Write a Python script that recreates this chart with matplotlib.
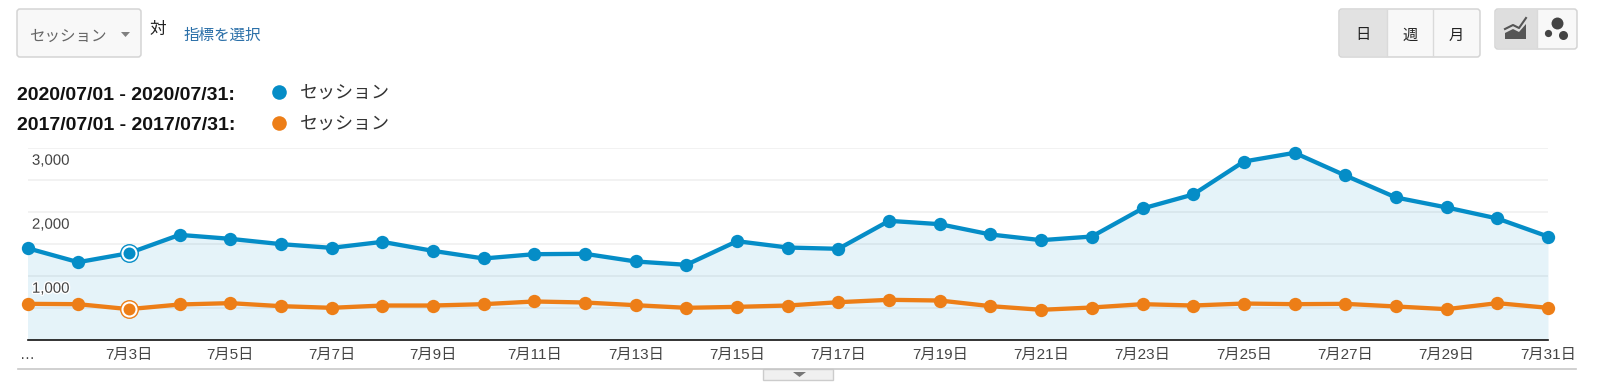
import matplotlib
matplotlib.use("Agg")
import matplotlib.pyplot as plt
import matplotlib.patheffects as pe
from matplotlib.patches import FancyBboxPatch, Polygon, Rectangle

plt.rcParams['font.family'] = ['Liberation Sans', 'Noto Sans CJK JP']

# Values
days = list(range(1, 32))
sessions_2020 = [1427, 1208, 1349, 1635, 1573, 1490, 1432, 1526, 1385, 1266,
                 1333, 1339, 1219, 1167, 1536, 1437, 1417, 1854, 1802, 1641,
                 1552, 1609, 2047, 2266, 2781, 2917, 2563, 2219, 2063, 1891,
                 1609]
sessions_2017 = [557, 552, 474, 547, 568, 521, 495, 531, 531, 552,
                 594, 578, 536, 495, 510, 531, 583, 620, 609, 521,
                 464, 500, 552, 531, 562, 552, 557, 516, 474, 568,
                 495]
y_labels = [1000, 2000, 3000]
y_grid = [500, 1000, 1500, 2000, 2500, 3000]
x_label_days = list(range(3, 32, 2))
highlight_day = 3
range_labels = ["2020/07/01 - 2020/07/31:", "2017/07/01 - 2017/07/31:"]
metric_name = "セッション"
period_buttons = ["日", "週", "月"]

BLUE = "#058dc7"
ORANGE = "#ed7e17"
WIDTH, HEIGHT = 1600, 383


def draw_button(ui, x0, y0, x1, y1, face="#f8f8f8"):
    """Rounded grey-edged box in pixel coordinates."""
    box = FancyBboxPatch((x0 + 3, y0 + 3), x1 - x0 - 6, y1 - y0 - 6,
                         boxstyle="round,pad=3", facecolor=face,
                         edgecolor="#d4d4d4", linewidth=1.1)
    ui.add_patch(box)


def draw_controls(ui):
    """Draws the dropdown, buttons and legend around the chart."""
    # Metric dropdown
    draw_button(ui, 17, 9, 141, 57)
    ui.text(29, 36.5, metric_name, fontsize=11.2, color="#666666", va="center")
    ui.add_patch(Polygon([(121, 32), (130, 32), (125.5, 37)], color="#808080",
                         lw=0))
    ui.text(149, 29.5, "対", fontsize=12, color="#222222", va="center")
    ui.text(183, 35.5, "指標を選択", fontsize=11.2, color="#2a6fa8", va="center")

    # Day / week / month
    draw_button(ui, 1339, 9, 1480, 57)
    ui.add_patch(Rectangle((1340, 10), 47, 46, color="#e2e2e2", lw=0))
    ui.plot([1387, 1387], [10, 56], color="#dadada", lw=1)
    ui.plot([1433, 1433], [10, 56], color="#dadada", lw=1)
    for x, label in zip([1363, 1410, 1456], period_buttons):
        ui.text(x, 35.5, label, fontsize=11, color="#222222",
                ha="center", va="center")

    # Chart type toggle
    draw_button(ui, 1495, 9, 1577, 49)
    ui.add_patch(Rectangle((1496, 10), 41, 38, color="#dedede", lw=0))
    ui.plot([1537, 1537], [10, 48], color="#dadada", lw=1)
    ui.add_patch(Polygon([(1505, 39), (1505, 33), (1513, 29), (1519, 32),
                          (1526, 24), (1526, 39)], color="#555555", lw=0))
    ui.plot([1505, 1513, 1519, 1526], [29, 25, 28, 18],
            color="#555555", lw=1.5)
    ui.plot([1557], [23], "o", color="#444444", ms=8.6, mew=0)
    ui.plot([1548], [33], "o", color="#444444", ms=5.2, mew=0)
    ui.plot([1563], [35], "o", color="#444444", ms=6.5, mew=0)

    # Legend
    for y, label, color in zip([92, 123], range_labels, [BLUE, ORANGE]):
        ui.text(17, y + 3, label, fontsize=14, fontweight="bold",
                color="#111111", va="center")
        ui.plot([279], [y], "o", color=color, ms=10.5, mew=0)
        ui.text(300, y + 2.3, metric_name, fontsize=13,
                color="#333333", va="center")

    # Bottom rule and collapse tab
    ui.plot([18, 1576], [369, 369], color="#c8c8c8", lw=1.2)
    ui.add_patch(Rectangle((763, 369), 70, 11, facecolor="#f0f0f0",
                           edgecolor="#cccccc", lw=1))
    ui.add_patch(Polygon([(793, 372), (806, 372), (799.5, 377)],
                         color="#777777", lw=0))


def draw_chart(ax):
    """Draws both session series with their grid and axis labels."""
    for value in y_grid:
        ax.axhline(value, color="#f2f2f2", lw=1.4, zorder=1)
    ax.fill_between(days, sessions_2020, 0, color=BLUE, alpha=0.1, lw=0,
                    zorder=2)
    ax.axhline(0, color="#111111", lw=1.2, zorder=3, clip_on=False)

    i = days.index(highlight_day)
    for values, color in [(sessions_2020, BLUE), (sessions_2017, ORANGE)]:
        ax.plot(days, values, color=color, lw=3.1, marker="o", ms=9.6, mew=0,
                clip_on=False, zorder=4)
        ax.plot(days[i], values[i], "o", ms=12.6, mfc="white", mec=color,
                mew=1, clip_on=False, zorder=5)
        ax.plot(days[i], values[i], "o", ms=8.6, color=color, mew=0,
                clip_on=False, zorder=6)

    for value in y_labels:
        ax.annotate(f"{value:,}", (days[0], value), xytext=(3.2, -4.5),
                    textcoords="offset points", fontsize=10.8, color="#444444",
                    va="top", ha="left", zorder=3,
                    path_effects=[pe.withStroke(linewidth=2, foreground="white")])

    ax.set_xlim(days[0], days[-1])
    ax.set_ylim(0, 3000)
    ax.set_xticks(x_label_days)
    ax.set_xticklabels([f"7月{d}日" for d in x_label_days], fontsize=11,
                       color="#444444")
    ax.tick_params(axis="x", length=0, pad=6)
    ax.set_yticks([])
    ax.patch.set_alpha(0)
    for spine in ax.spines.values():
        spine.set_visible(False)
    ax.annotate("…", (days[0], 0), xytext=(0, -6), textcoords="offset points",
                fontsize=10.8, color="#444444", ha="center", va="top")


def main():
    fig = plt.figure(figsize=(WIDTH / 100, HEIGHT / 100), dpi=100)

    # Pixel-coordinate layer for the surrounding controls
    ui = fig.add_axes([0, 0, 1, 1], zorder=0)
    ui.set_xlim(0, WIDTH)
    ui.set_ylim(HEIGHT, 0)
    ui.axis("off")
    draw_controls(ui)

    left, right, top, bottom = 27.5, 1548, 147.5, 339.5
    ax = fig.add_axes([left / WIDTH, 1 - bottom / HEIGHT,
                       (right - left) / WIDTH, (bottom - top) / HEIGHT],
                      zorder=1)
    draw_chart(ax)

    fig.savefig("out.png", dpi=100)


if __name__ == "__main__":
    main()
